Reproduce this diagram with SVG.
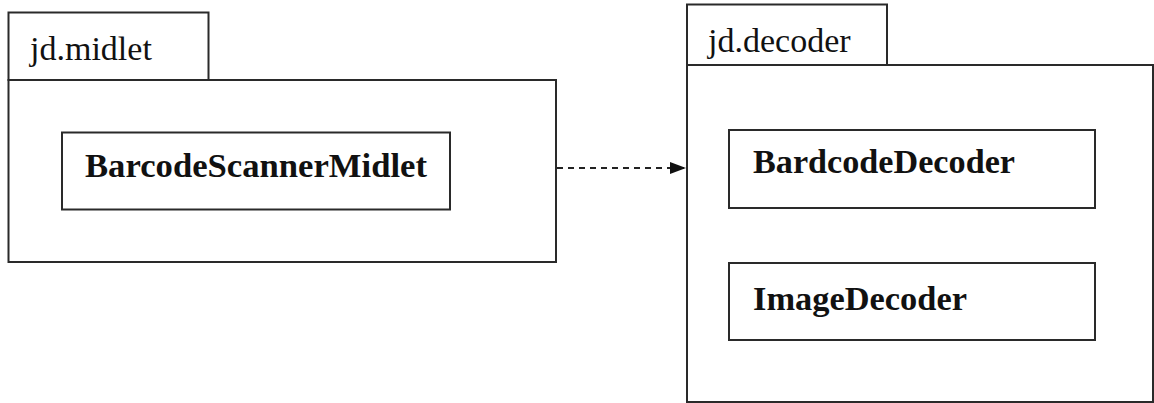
<svg xmlns="http://www.w3.org/2000/svg" width="1154" height="403" viewBox="0 0 1154 403">
<style>
.box{fill:#fff;stroke:#2a2a2a;stroke-width:2}
.pkg{font-family:"Liberation Serif",serif;font-size:34px;fill:#111}
.cls{font-family:"Liberation Serif",serif;font-size:34px;font-weight:bold;fill:#111}
.dep{fill:none;stroke:#222;stroke-width:2;stroke-dasharray:6 5}
</style>
<defs>
<marker id="arr" markerWidth="16" markerHeight="14" refX="16" refY="7" orient="auto" markerUnits="userSpaceOnUse">
<path d="M0,1 L16,7 L0,13 Z" fill="#111"/>
</marker>
</defs>
<rect width="1154" height="403" fill="#fff"/>
<g id="pkg-midlet">
<rect class="box" x="8.5" y="12.5" width="200" height="67.5"/>
<rect class="box" x="8.5" y="80" width="547.5" height="182"/>
<text class="pkg" x="30" y="60">jd.midlet</text>
</g>
<g id="cls-BarcodeScannerMidlet">
<rect class="box" x="62" y="132.5" width="388" height="77"/>
<text class="cls" x="85" y="177" textLength="342" lengthAdjust="spacingAndGlyphs">BarcodeScannerMidlet</text>
</g>
<g id="pkg-decoder">
<rect class="box" x="687" y="4.5" width="200" height="60.5"/>
<rect class="box" x="687" y="65" width="466" height="337"/>
<text class="pkg" x="708" y="52">jd.decoder</text>
</g>
<g id="cls-BardcodeDecoder">
<rect class="box" x="729" y="130" width="366" height="78"/>
<text class="cls" x="753" y="173" textLength="262" lengthAdjust="spacingAndGlyphs">BardcodeDecoder</text>
</g>
<g id="cls-ImageDecoder">
<rect class="box" x="729" y="263" width="366" height="77"/>
<text class="cls" x="753" y="310" textLength="214" lengthAdjust="spacingAndGlyphs">ImageDecoder</text>
</g>
<g id="connectors">
<line class="dep" x1="557" y1="168" x2="686" y2="168" marker-end="url(#arr)"/>
</g>
</svg>
